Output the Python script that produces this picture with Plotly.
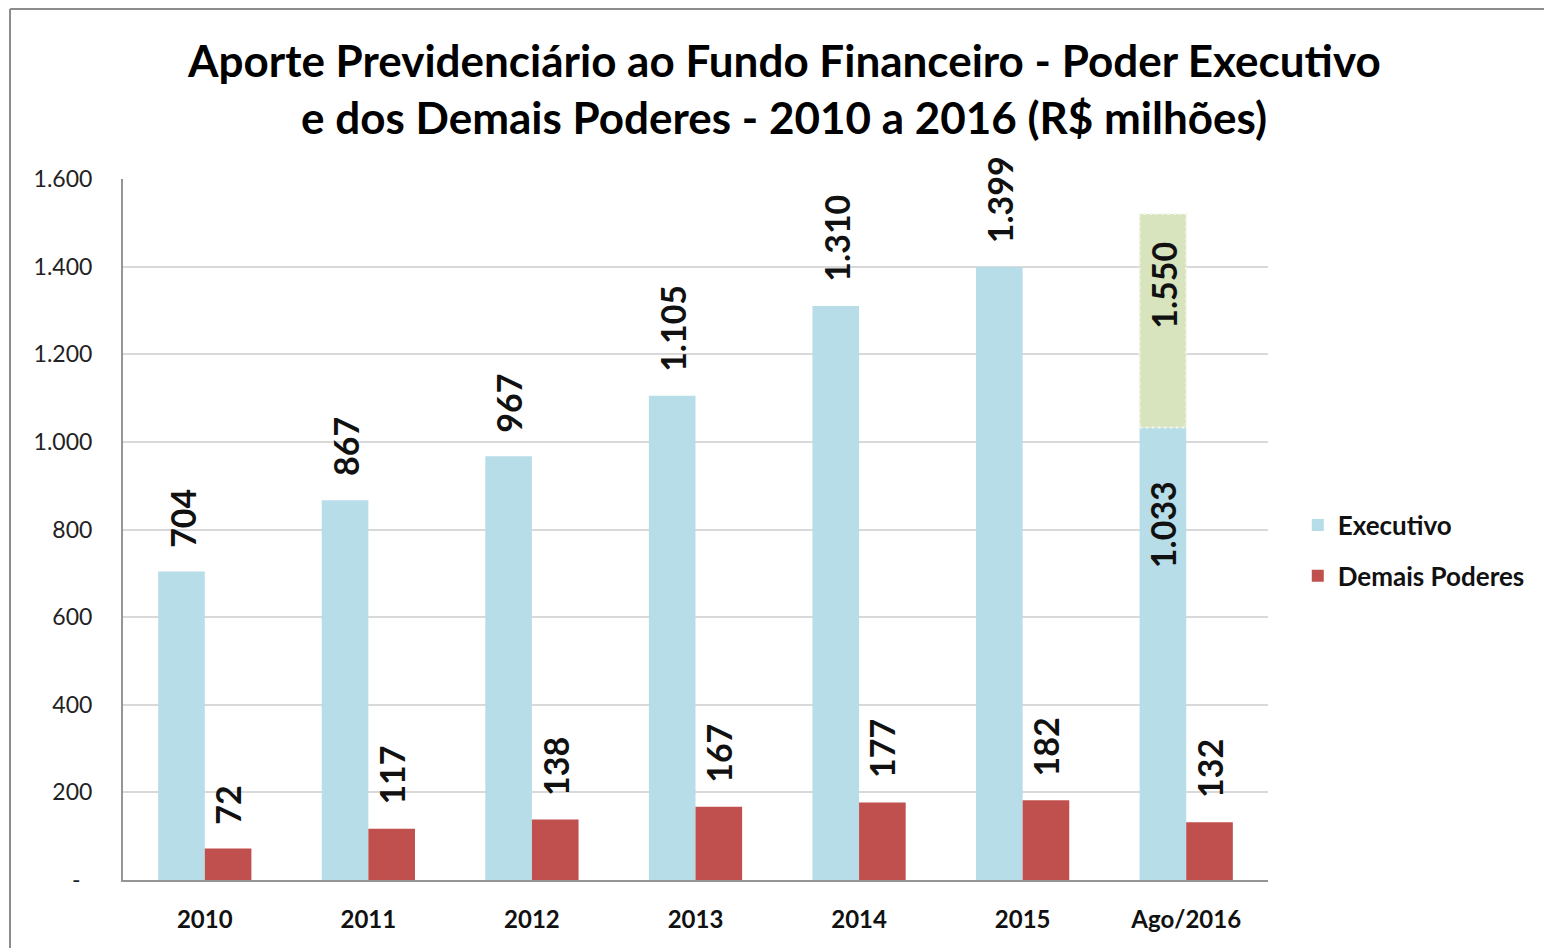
import plotly.graph_objects as go

# ---------------- data ----------------
categories = ["2010", "2011", "2012", "2013", "2014", "2015", "Ago/2016"]
executivo = [704, 867, 967, 1105, 1310, 1399, 1033]
demais_poderes = [72, 117, 138, 167, 177, 182, 132]
projecao_categoria = ["Ago/2016"]
projecao_segmento = [487]          # dotted green part drawn above the 1.033 bar
projecao_rotulo = ["1.550"]        # label shown inside the projection bar
y_ticks = [0, 200, 400, 600, 800, 1000, 1200, 1400, 1600]
y_tick_text = ["-\u00a0\u00a0", "200", "400", "600", "800", "1.000", "1.200", "1.400", "1.600"]


def br(v):
    return f"{v:,}".replace(",", ".")


FONT = "Lato"
C_EXEC = "#b7dde8"
C_DEM = "#c0504d"
C_PROJ = "#d7e4bd"
BARGAP = 0.43

fig = go.Figure()
fig.add_trace(go.Bar(x=categories, y=executivo, name="Executivo",
                     marker=dict(color=C_EXEC, line=dict(width=0)),
                     offsetgroup="exec", legendgroup="a"))
fig.add_trace(go.Bar(x=projecao_categoria, y=projecao_segmento,
                     base=[executivo[categories.index(c)] for c in projecao_categoria],
                     name="Projeção", showlegend=False,
                     marker=dict(color=C_PROJ, line=dict(width=0)),
                     offsetgroup="exec"))
fig.add_trace(go.Bar(x=categories, y=demais_poderes, name="Demais Poderes",
                     marker=dict(color=C_DEM, line=dict(width=0)),
                     offsetgroup="dem", legendgroup="b"))

annotations = []
lab_font = dict(family=FONT, size=34, color="#111111")
for i, (c, v) in enumerate(zip(categories, executivo)):
    if c in projecao_categoria:
        annotations.append(dict(x=i, y=v, xref="x", yref="y", text=f"<b>{br(v)}</b>",
                                textangle=-90, showarrow=False, xanchor="center",
                                yanchor="top", xshift=-23, yshift=-52, font=lab_font))
    else:
        annotations.append(dict(x=i, y=v, xref="x", yref="y", text=f"<b>{br(v)}</b>",
                                textangle=-90, showarrow=False, xanchor="center",
                                yanchor="bottom", xshift=-23, yshift=22, font=lab_font))
for i, (c, v) in enumerate(zip(categories, demais_poderes)):
    annotations.append(dict(x=i, y=v, xref="x", yref="y", text=f"<b>{br(v)}</b>",
                            textangle=-90, showarrow=False, xanchor="center",
                            yanchor="bottom", xshift=23, yshift=22, font=lab_font))

shapes = []
half = (1 - BARGAP) / 2
for c, seg, lab in zip(projecao_categoria, projecao_segmento, projecao_rotulo):
    i = categories.index(c)
    base = executivo[i]
    top = base + seg
    annotations.append(dict(x=i, y=top, xref="x", yref="y", text=f"<b>{lab}</b>",
                            textangle=-90, showarrow=False, xanchor="center",
                            yanchor="top", xshift=-23, yshift=-26, font=lab_font))
    # dotted outline of the projection segment
    shapes.append(dict(type="rect", xref="x", yref="y", x0=i - half, x1=i,
                       y0=base, y1=top, line=dict(color="#f2f6ea", width=2, dash="dot"),
                       fillcolor="rgba(0,0,0,0)", layer="above"))

W, H = 1544, 948
L, R, T, B = 123, 276, 179, 68
PW, PH = W - L - R, H - T - B

title_font = dict(family=FONT, size=44, color="#000000")
annotations.append(dict(x=(784 - L) / PW, y=(H - 60 - B) / PH, xref="paper", yref="paper",
                        text="<b>Aporte Previdenciário ao Fundo Financeiro - Poder Executivo</b>",
                        showarrow=False, xanchor="center", yanchor="middle", font=title_font))
annotations.append(dict(x=(784 - L) / PW, y=(H - 117 - B) / PH, xref="paper", yref="paper",
                        text="<b>e dos Demais Poderes - 2010 a 2016 (R$ milhões)</b>",
                        showarrow=False, xanchor="center", yanchor="middle", font=title_font))

shapes += [
    dict(type="line", xref="paper", yref="paper",
         x0=(10 - L) / PW, x1=(W + 5 - L) / PW,
         y0=(H - 9 - B) / PH, y1=(H - 9 - B) / PH,
         line=dict(color="#8c8c8c", width=2)),
    dict(type="line", xref="paper", yref="paper",
         x0=(10 - L) / PW, x1=(10 - L) / PW,
         y0=(-5 - B) / PH, y1=(H - 9 - B) / PH,
         line=dict(color="#8c8c8c", width=2)),
]

fig.update_layout(
    width=W, height=H,
    margin=dict(l=L, r=R, t=T, b=B, pad=0),
    paper_bgcolor="white", plot_bgcolor="white",
    barmode="group", bargap=BARGAP, bargroupgap=0,
    font=dict(family=FONT, color="#111111"),
    annotations=annotations, shapes=shapes,
    legend=dict(x=1.026, y=0.47, xanchor="left", yanchor="middle",
                font=dict(family=FONT, size=26, color="#111111", weight="bold"),
                traceorder="grouped", tracegroupgap=14,
                bgcolor="rgba(0,0,0,0)"),
    xaxis=dict(type="category", range=[-0.5, len(categories) - 0.5],
               showgrid=False, showline=True, linecolor="#959595",
               linewidth=2, ticks="outside", ticklen=17, tickcolor="rgba(0,0,0,0)",
               tickfont=dict(family=FONT, size=24, color="#111111", weight="bold")),
    yaxis=dict(range=[0, 1600], tickvals=y_ticks, ticktext=y_tick_text,
               showgrid=True, gridcolor="#d9d9d9", gridwidth=2,
               showline=True, linecolor="#959595", linewidth=2, zeroline=False,
               ticks="outside", ticklen=24, tickcolor="rgba(0,0,0,0)",
               tickfont=dict(family=FONT, size=23, color="#222222")),
)

fig.write_html("out.html", config={"displayModeBar": False},
               post_script="document.body.style.margin='0';document.body.style.overflow='hidden';")
